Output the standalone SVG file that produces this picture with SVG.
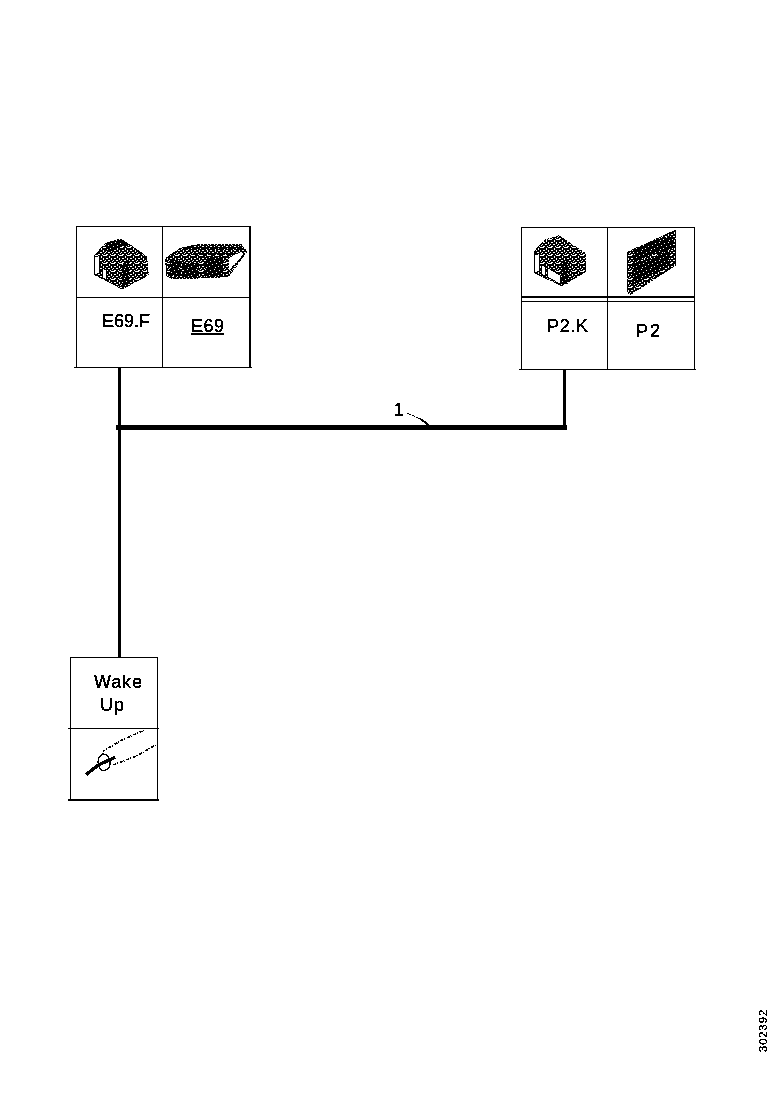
<svg xmlns="http://www.w3.org/2000/svg" width="778" height="1100" viewBox="0 0 778 1100">
<style>
.b{fill:none;stroke:#000;stroke-width:1;shape-rendering:crispEdges}
.w{fill:none;stroke:#000;shape-rendering:crispEdges}
.t{font-family:"Liberation Sans",Arial,sans-serif;font-size:18px;fill:#000;stroke:#000;stroke-width:.35px;filter:url(#th)}
.d{fill:url(#dith);stroke:#000;stroke-width:3;stroke-dasharray:9 3 6 3;shape-rendering:crispEdges}
.l{fill:#fff;stroke:#000;stroke-width:3;shape-rendering:crispEdges}
.k{fill:url(#dark);shape-rendering:crispEdges}
.s{fill:none;stroke:#000;stroke-width:5;stroke-dasharray:9 3 3 6;shape-rendering:crispEdges}
</style>
<defs>
<filter id="th" x="-10%" y="-10%" width="120%" height="120%" color-interpolation-filters="sRGB">
<feComponentTransfer><feFuncA type="discrete" tableValues="0 0 1 1"/></feComponentTransfer>
</filter>
<pattern id="dith" width="24" height="24" patternUnits="userSpaceOnUse">
<rect width="24" height="24" fill="#000"/>
<path fill="#fff" d="M0 0h6v3h-6zM12 3h3v6h-3zM18 0h6v3h-6zM3 9h6v3h-6zM18 9h3v6h-3zM0 15h3v3h-3zM9 15h6v3h-6zM3 21h6v3h-6zM15 21h3v3h-3zM21 18h3v3h-3z"/>
</pattern>
<pattern id="dark" width="27" height="27" patternUnits="userSpaceOnUse">
<rect width="27" height="27" fill="#000"/>
<path fill="#fff" d="M3 3h3v3h-3zM15 0h3v3h-3zM21 9h3v3h-3zM9 12h3v3h-3zM0 18h3v3h-3zM18 21h3v3h-3z"/>
</pattern>
</defs>
<g id="connectors">
<path class="w" stroke-width="3" d="M119.500 368V657"/>
<path class="w" stroke-width="5" d="M116 427.500H567"/>
<path class="w" stroke-width="3" d="M564.500 370V427"/>
<path class="w" stroke-width="1" stroke-dasharray="4 1" d="M407 413L414 416L420 419"/>
<path class="w" stroke-width="2" d="M420 419L425 422L429 426"/>
</g>
<g id="node-e69">
<rect class="b" x="76.500" y="226.500" width="173" height="141"/>
<path class="b" d="M162.500 227V367M76 297.500H250M74 367.500H252"/>
<path class="w" stroke-width="2" d="M250 226V368"/>
<g transform="translate(65 215) scale(.3333)">
<path class="d" d="M88 122L122 85L165 72L200 92L245 125L250 180L172 222L90 180Z"/>
<path class="l" d="M90 125L105 122L105 175L90 178Z"/>
<path class="l" d="M112 160L126 165L126 196L112 188Z"/>
<path class="k" d="M170 150L192 135L192 214L170 222Z"/>
<path class="k" d="M120 90L165 72L185 90L125 112Z"/>
<path class="d" d="M302 130L345 100L392 90L530 90L545 110L490 185L330 192L305 185Z"/>
<path class="k" d="M350 95H530V104H350ZM385 113H505V121H385ZM315 135H345V182H315ZM420 125H475V185H420ZM355 145H400V185H355Z"/>
<path class="l" d="M490 128L530 108L535 120L490 170Z" stroke-dasharray="6 3"/>
</g>
<text class="t" x="102" y="327" textLength="48">E69.F</text>
<text class="t" x="191" y="332" textLength="33" text-decoration="underline">E69</text>
</g>
<g id="node-p2">
<rect class="b" x="521.500" y="227.500" width="173" height="142"/>
<path class="b" d="M607.500 228V369M522 301.500H694M519 369.500H696"/>
<path class="w" stroke-width="2" d="M522 297H694"/>
<g transform="translate(510 215) scale(.3333)">
<path class="d" d="M72 110L105 75L148 62L180 85L225 115L228 170L155 212L75 175Z"/>
<path class="l" d="M74 120L88 116L88 170L74 172Z"/>
<path class="l" d="M95 150L108 155L108 185L95 178Z"/>
<path class="l" d="M112 158L152 182L152 208L112 186Z"/>
<path class="k" d="M155 145L175 130L175 205L155 212Z"/>
<path class="d" d="M352 112L498 45L498 150L362 238L352 232Z"/>
<path class="k" d="M372 100L490 60L490 100L372 140ZM365 150L480 105L480 150L365 212Z"/>
</g>
<text class="t" x="547" y="332" textLength="41">P2.K</text>
<text class="t" x="636" y="337" textLength="24">P2</text>
</g>
<g id="node-wake-up">
<rect class="b" x="70.500" y="657.500" width="87" height="142"/>
<path class="b" d="M68 728.500H159"/>
<path class="w" stroke-width="2" d="M68 800H159"/>
<text class="t" x="94" y="688" textLength="48">Wake</text>
<text class="t" x="100" y="711" textLength="24">Up</text>
<g transform="translate(60 650) scale(.3333)">
<path class="s" d="M128 305L185 270L255 240"/>
<path class="s" d="M160 345L230 318L295 280"/>
<path d="M78 374L115 345L165 322" fill="none" stroke="#000" stroke-width="10" shape-rendering="crispEdges"/>
<path d="M128 312C112 320 110 345 122 358C135 368 152 355 150 335C148 322 140 312 128 312Z" fill="none" stroke="#000" stroke-width="4" shape-rendering="crispEdges"/>
</g>
</g>
<text class="t" id="code" transform="translate(767 1052) rotate(-90)" style="font-size:11px" textLength="42">302392</text>
<text class="t" x="394" y="416">1</text>
</svg>
